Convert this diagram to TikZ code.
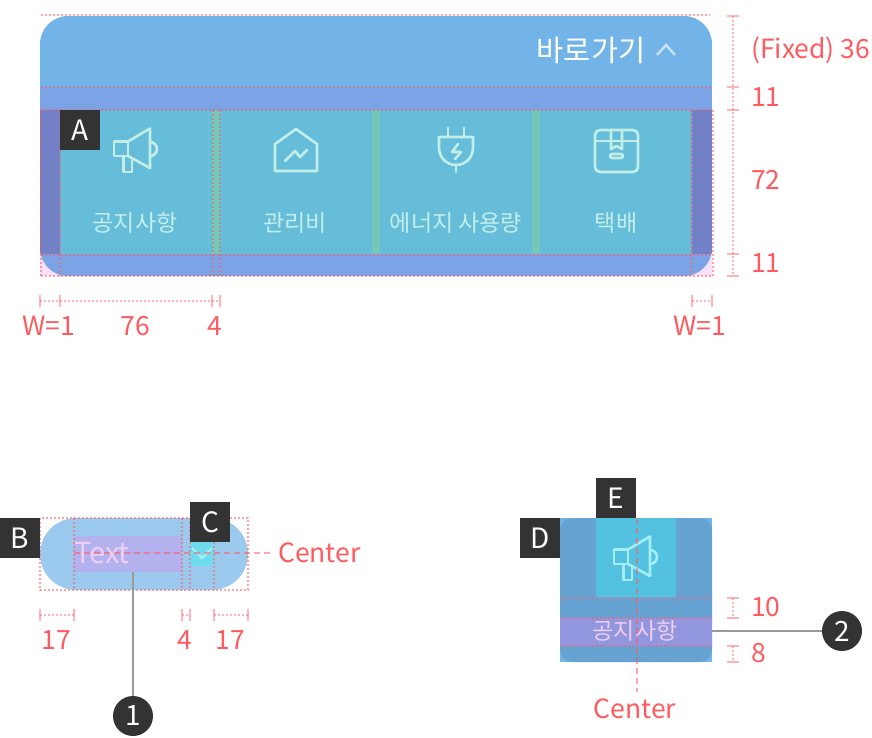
\documentclass[tikz,border=0pt]{standalone}
\usepackage{fontspec}
\setmainfont{Noto Sans CJK KR}
\usetikzlibrary{positioning}
\tikzset{
    guideDot/.style={draw=specRed, draw opacity=0.55, line width=2pt, dash pattern=on 2pt off 2pt},
    guideDash/.style={draw=specRed, draw opacity=0.55, line width=2pt, dash pattern=on 6pt off 4pt},
    dimTick/.style={draw=specRed, draw opacity=0.45, line width=2.2pt},
    dimDot/.style={draw=specRed, draw opacity=0.45, line width=2pt, dash pattern=on 2pt off 2pt},
    dimLabel/.style={text=specRed, font=\fontsize{26.5}{26.5}\selectfont, inner sep=0pt},
    badgeBox/.style={fill=badgeDark, text=white, minimum size=40pt, inner sep=0pt, font=\fontsize{28}{28}\selectfont},
    badgeDot/.style={circle, fill=badgeDark, text=white, minimum size=40pt, inner sep=0pt, font=\fontsize{28}{28}\selectfont},
    leader/.style={draw=gray!80, line width=2.4pt},
    iconLine/.style={draw=iconPale, line width=2.6pt, line join=round, line cap=round},
    tabLabel/.style={text=iconPale, font=\fontsize{23}{23}\selectfont, inner sep=0pt}
}
\newcommand{\megaphone}[3]{%
    \begin{scope}[shift={(#1,#2)}]
        \draw[#3] (114,141.5) rectangle (128,156);
        \draw[#3] (128,141.5) -- (150,128.5) -- (150,168) -- (128,156);
        \draw[#3] (150,142) arc (-90:90:7);
        \draw[#3] (123.5,156) -- (123.5,172) -- (132,172) -- (132,159.5);
    \end{scope}}
\begin{document}
\begin{tikzpicture}[x=1pt, y=-1pt]
    \definecolor{specRed}{HTML}{FF5A5F}
    \definecolor{badgeDark}{HTML}{333333}
    \definecolor{iconPale}{HTML}{C3EEE8}
    \definecolor{panelTop}{HTML}{72B4E8}
    \definecolor{panelBand}{HTML}{7BA3E6}
    \definecolor{cellFill}{HTML}{66BDDA}
    \definecolor{sideFill}{HTML}{7180C7}
    \definecolor{gapFill}{HTML}{74C8B8}
    \definecolor{cornerPink}{HTML}{F6E0FA}
    \definecolor{pillFill}{HTML}{9CCAEE}
    \definecolor{textFill}{HTML}{B3B2EE}
    \definecolor{textPink}{HTML}{F0CDF5}
    \definecolor{checkFill}{HTML}{6EDBEE}
    \definecolor{checkMark}{HTML}{A0EEF0}
    \definecolor{tileFill}{HTML}{67A3D2}
    \definecolor{iconFill}{HTML}{52C2E0}
    \definecolor{iconBright}{HTML}{A5EEF5}
    \definecolor{labelFill}{HTML}{9296DE}

    \useasboundingbox (0,0) rectangle (872,738);

    % Top panel
    \fill[cornerPink] (40,254) rectangle (70,276);
    \fill[cornerPink] (682,254) rectangle (712,276);
    \begin{scope}
        \clip[rounded corners=28pt] (40,16) rectangle (712,276);
        \fill[panelTop] (40,16) rectangle (712,87);
        \fill[panelBand] (40,87) rectangle (712,276);
        \fill[cellFill] (40,110) rectangle (712,254);
        \fill[sideFill] (40,110) rectangle (60,254);
        \fill[sideFill] (692,110) rectangle (712,254);
        \foreach \x in {212,372,532}
            \fill[gapFill] (\x,110) rectangle (\x+8,254);
    \end{scope}

    % Shortcut bar
    \node[text=white, font=\fontsize{29.5}{29.5}\selectfont, inner sep=0pt] (barTitle) at (591,50) {바로가기};
    \draw[draw=white, draw opacity=0.6, line width=2.4pt] (657,55) -- (666,45) -- (675,55);

    % Icons
    \megaphone{0}{0}{iconLine}
    \draw[iconLine] (275,144) -- (296,129) -- (317,144) -- (317,171) -- (275,171) -- cycle;
    \draw[iconLine] (285,161) -- (295,151) -- (300,157) -- (307,150);
    \draw[iconLine] (448,128) -- (448,137);
    \draw[iconLine] (464,128) -- (464,137);
    \draw[iconLine] (439,137) -- (473,137) -- (473,148) arc (0:180:17) -- cycle;
    \draw[iconLine] (456,165) -- (456,172);
    \draw[iconLine] (458,144) -- (452,152) -- (461,152) -- (455,159);
    \draw[iconLine, rounded corners=5pt] (595,130) rectangle (638,172);
    \draw[iconLine] (595,141) -- (638,141);
    \draw[iconLine] (611,130) -- (611,149) -- (616.5,146) -- (622,149) -- (622,130);
    \draw[iconLine, rounded corners=2pt] (610,154) rectangle (623,158);

    % Tab labels
    \node[tabLabel] (tabNotice) at (135,223) {공지사항};
    \node[tabLabel] (tabFee) at (295,223) {관리비};
    \node[tabLabel] (tabEnergy) at (456,223) {에너지 사용량};
    \node[tabLabel] (tabParcel) at (616,223) {택배};

    % Guides on top panel
    \draw[guideDot] (41,15) -- (710,15);
    \foreach \y in {87,110.5,254.5,276}
        \draw[guideDot] (41,\y) -- (713,\y);
    \foreach \x in {41,59.5,213,219.5,691,713}
        \draw[guideDot] (\x,110) -- (\x,276);

    % Dimensions on top panel
    \draw[dimDot] (733,16) -- (733,276);
    \foreach \y in {16,87,110,254,276}
        \draw[dimTick] (727,\y) -- (739,\y);
    \draw[dimDot] (40,301) -- (220,301);
    \draw[dimDot] (692,301) -- (712,301);
    \foreach \x in {40,60,212,220,692,712}
        \draw[dimTick] (\x,295) -- (\x,307);

    \node[dimLabel, anchor=west] (dimFixed) at (751,50) {(Fixed) 36};
    \node[dimLabel, anchor=west] (dimGapA) at (751,97) {11};
    \node[dimLabel, anchor=west] (dimRow) at (751,180) {72};
    \node[dimLabel, anchor=west] (dimGapB) at (751,263) {11};
    \node[dimLabel] (dimSideA) at (49,326) {W=1};
    \node[dimLabel] (dimCell) at (135,326) {76};
    \node[dimLabel] (dimGap) at (215,326) {4};
    \node[dimLabel] (dimSideB) at (700,326) {W=1};

    \node[badgeBox] (badgeA) at (80,130) {A};

    % Pill button
    \fill[pillFill, rounded corners=36pt] (40,518) rectangle (248,590);
    \fill[textFill] (74,536) rectangle (182,572);
    \fill[checkFill] (190,542) rectangle (214,566);
    \node[text=textPink, font=\fontsize{29}{29}\selectfont, inner sep=0pt, anchor=west] (pillText) at (74,553) {Text};
    \draw[draw=checkMark, line width=2.2pt] (192,548) -- (202,558) -- (212,548);
    \draw[guideDot] (40,518) rectangle (248,590);
    \foreach \x in {74,182,190,214}
        \draw[guideDot] (\x,518) -- (\x,590);
    \coordinate (pillCenter) at (272,552.5);
    \draw[guideDash] (74,552.5) -- (pillCenter);
    \node[dimLabel, anchor=west] (centerA) at (278,553) {Center};

    \draw[dimDot] (40,615) -- (74,615);
    \draw[dimDot] (182,615) -- (190,615);
    \draw[dimDot] (214,615) -- (248,615);
    \foreach \x in {40,74,182,190,214,248}
        \draw[dimTick] (\x,609) -- (\x,621);
    \node[dimLabel] (dimPillL) at (56,640) {17};
    \node[dimLabel] (dimPillGap) at (185,640) {4};
    \node[dimLabel] (dimPillR) at (230,640) {17};

    \node[badgeBox] (badgeB) at (20,538) {B};
    \node[badgeBox] (badgeC) at (210,522) {C};
    \coordinate (textBottom) at (133,572);
    \node[badgeDot] (numOne) at (133,716) {1};
    \draw[leader] (textBottom) -- (numOne);

    % Tile
    \fill[panelTop] (560,518) rectangle (712,662);
    \fill[tileFill, rounded corners=12pt] (560,518) rectangle (712,662);
    \fill[iconFill] (596,518) rectangle (676,598);
    \fill[labelFill] (560,618) rectangle (712,646);
    \megaphone{500}{408}{draw=iconBright, line width=2.6pt, line join=round, line cap=round}
    \node[text=textPink, font=\fontsize{23}{23}\selectfont, inner sep=0pt] (tileLabel) at (635,631) {공지사항};
    \foreach \y in {598,618,646}
        \draw[guideDot] (560,\y) -- (712,\y);
    \draw[guideDash] (637,518) -- (637,692);
    \node[dimLabel] (centerB) at (635,709) {Center};

    \draw[dimDot] (733,598) -- (733,618);
    \draw[dimDot] (733,646) -- (733,662);
    \foreach \y in {598,618,646,662}
        \draw[dimTick] (727,\y) -- (739,\y);
    \node[dimLabel, anchor=west] (dimTileA) at (751,607) {10};
    \node[dimLabel, anchor=west] (dimTileB) at (751,653) {8};

    \node[badgeBox] (badgeD) at (540,538) {D};
    \node[badgeBox] (badgeE) at (616,498) {E};
    \coordinate (labelRight) at (712,631);
    \node[badgeDot] (numTwo) at (842,631) {2};
    \draw[leader] (labelRight) -- (numTwo);
\end{tikzpicture}
\end{document}
